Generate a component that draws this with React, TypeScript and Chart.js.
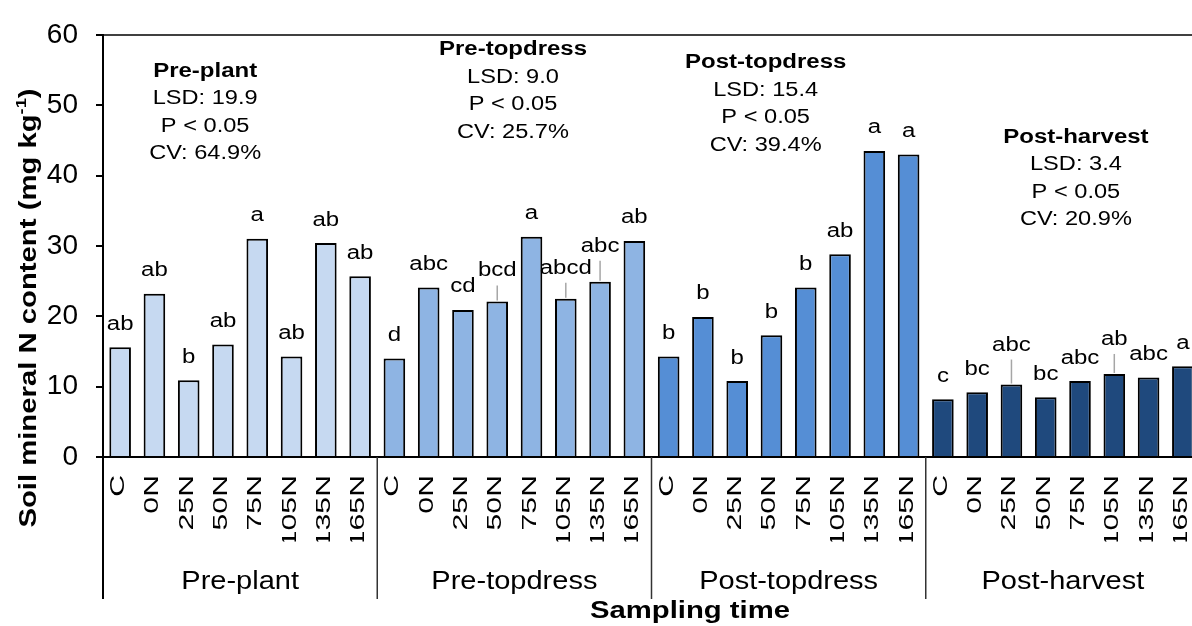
import React, { useEffect, useRef } from "react";
import { Chart, registerables } from "chart.js";

Chart.register(...registerables);

// ---------- data ----------
const treatments = ["C", "0N", "25N", "50N", "75N", "105N", "135N", "165N"];
const samplingTimes = ["Pre-plant", "Pre-topdress", "Post-topdress", "Post-harvest"];

const prePlant = [15.6, 23.2, 10.9, 16.0, 31.0, 14.3, 30.4, 25.7];
const preTopdress = [14.0, 24.1, 20.9, 22.1, 31.3, 22.5, 24.9, 30.7];
const postTopdress = [14.3, 19.9, 10.8, 17.3, 24.1, 28.8, 43.5, 43.0];
const postHarvest = [8.2, 9.2, 10.3, 8.5, 10.8, 11.8, 11.3, 12.9];

const prePlantLetters = ["ab", "ab", "b", "ab", "a", "ab", "ab", "ab"];
const preTopdressLetters = ["d", "abc", "cd", "bcd", "a", "abcd", "abc", "ab"];
const postTopdressLetters = ["b", "b", "b", "b", "b", "ab", "a", "a"];
const postHarvestLetters = ["c", "bc", "abc", "bc", "abc", "ab", "abc", "a"];

const lsdValues = ["19.9", "9.0", "15.4", "3.4"];
const pValues = ["P < 0.05", "P < 0.05", "P < 0.05", "P < 0.05"];
const cvValues = ["64.9%", "25.7%", "39.4%", "20.9%"];

const yTicks = [0, 10, 20, 30, 40, 50, 60];

// ---------- styling / placement ----------
const groupColors = ["#C6D9F1", "#8EB4E3", "#558ED5", "#1F497D"];
const leaderPx = [
  [0, 0, 0, 0, 0, 0, 0, 0],
  [0, 0, 0, 15, 0, 15, 20, 0],
  [0, 0, 0, 0, 0, 0, 0, 0],
  [0, 0, 24, 0, 0, 19, 0, 0],
];
// stat block anchor (category index, value of first line centre)
const statAnchor = [
  { x: 2.48, y: 54.8 },
  { x: 11.46, y: 57.9 },
  { x: 18.83, y: 56.05 },
  { x: 27.88, y: 45.45 },
];

const FAMILY = "'Liberation Sans', Arial, Helvetica, sans-serif";

const seriesValues = [prePlant, preTopdress, postTopdress, postHarvest];
const seriesLetters = [prePlantLetters, preTopdressLetters, postTopdressLetters, postHarvestLetters];

const allLabels: string[] = [];
const allValues: number[] = [];
const allColors: string[] = [];
const allLetters: string[] = [];
const allLeaders: number[] = [];
seriesValues.forEach((vals, g) => {
  vals.forEach((v, i) => {
    allLabels.push(treatments[i]);
    allValues.push(v);
    allColors.push(groupColors[g]);
    allLetters.push(seriesLetters[g][i]);
    allLeaders.push(leaderPx[g][i]);
  });
});

function txt(
  ctx: CanvasRenderingContext2D,
  s: string,
  x: number,
  y: number,
  font: string,
  sx: number,
  align: CanvasTextAlign = "center",
  baseline: CanvasTextBaseline = "middle",
  rot = 0
) {
  ctx.save();
  ctx.translate(x, y);
  if (rot) ctx.rotate(rot);
  ctx.scale(sx, 1);
  ctx.font = font;
  ctx.textAlign = align;
  ctx.textBaseline = baseline;
  ctx.fillStyle = "#000";
  ctx.fillText(s, 0, 0);
  ctx.restore();
}

const overlayPlugin = {
  id: "overlay",
  afterDraw(chart: any) {
    const ctx: CanvasRenderingContext2D = chart.ctx;
    const xs = chart.scales.x;
    const ys = chart.scales.y;
    const area = chart.chartArea;
    const n = allValues.length;
    const per = treatments.length;
    const lowerEnd = 599;

    // lines below axis: y-axis extension and group separators
    ctx.save();
    ctx.strokeStyle = "#000";
    ctx.lineWidth = 2;
    ctx.beginPath();
    ctx.moveTo(area.left, area.bottom);
    ctx.lineTo(area.left, lowerEnd);
    ctx.stroke();
    ctx.strokeStyle = "#333";
    ctx.lineWidth = 1.5;
    for (let g = 1; g < samplingTimes.length; g++) {
      const xp = xs.getPixelForValue(g * per - 0.5);
      ctx.beginPath();
      ctx.moveTo(xp, area.bottom);
      ctx.lineTo(xp, lowerEnd);
      ctx.stroke();
    }
    ctx.restore();

    // leader lines and letters
    for (let i = 0; i < n; i++) {
      const xc = xs.getPixelForValue(i);
      const top = ys.getPixelForValue(allValues[i]) - 1;
      const lead = allLeaders[i];
      if (lead > 0) {
        ctx.save();
        ctx.strokeStyle = "#A6A6A6";
        ctx.lineWidth = 1.5;
        ctx.beginPath();
        ctx.moveTo(xc, top);
        ctx.lineTo(xc, top - lead);
        ctx.stroke();
        ctx.restore();
      }
      const gap = lead > 0 ? lead + 10 : 17.5;
      txt(ctx, allLetters[i], xc, top + 1 - gap, `20px ${FAMILY}`, 1.2, "center", "alphabetic");
    }

    // stat blocks
    statAnchor.forEach((a, g) => {
      const xc = xs.getPixelForValue(a.x);
      const y0 = ys.getPixelForValue(a.y);
      const lh = 27.5;
      txt(ctx, samplingTimes[g], xc, y0, `bold 20px ${FAMILY}`, 1.2);
      txt(ctx, `LSD: ${lsdValues[g]}`, xc, y0 + lh, `20px ${FAMILY}`, 1.18);
      txt(ctx, pValues[g], xc, y0 + 2 * lh, `20px ${FAMILY}`, 1.18);
      txt(ctx, `CV: ${cvValues[g]}`, xc, y0 + 3 * lh, `20px ${FAMILY}`, 1.18);
    });

    // rotated treatment labels (clipped)
    ctx.save();
    ctx.beginPath();
    ctx.rect(0, area.bottom + 1, chart.width, 541.5 - area.bottom - 1);
    ctx.clip();
    for (let i = 0; i < n; i++) {
      const xc = xs.getPixelForValue(i);
      txt(ctx, allLabels[i], xc + 4, 475, `19.5px ${FAMILY}`, 1.55, "right", "alphabetic", -Math.PI / 2);
    }
    ctx.restore();

    // group labels
    samplingTimes.forEach((s, g) => {
      const xc = xs.getPixelForValue(g * per + (per - 1) / 2);
      txt(ctx, s, xc, 582, `25px ${FAMILY}`, 1.16);
    });

    // x-axis title
    txt(ctx, "Sampling time", 690, 611, `bold 24px ${FAMILY}`, 1.22);

    // y-axis title with superscript
    ctx.save();
    ctx.translate(35.5, 308);
    ctx.rotate(-Math.PI / 2);
    ctx.scale(1.22, 1);
    ctx.fillStyle = "#000";
    ctx.textBaseline = "alphabetic";
    ctx.textAlign = "left";
    const mainFont = `bold 24px ${FAMILY}`;
    const supFont = `bold 15px ${FAMILY}`;
    const p1 = "Soil mineral N content (mg kg";
    const p2 = "-1";
    const p3 = ")";
    ctx.font = mainFont;
    const w1 = ctx.measureText(p1).width;
    const w3 = ctx.measureText(p3).width;
    ctx.font = supFont;
    const w2 = ctx.measureText(p2).width;
    const total = w1 + w2 + w3;
    let cx = -total / 2;
    ctx.font = mainFont;
    ctx.fillText(p1, cx, 0);
    cx += w1;
    ctx.font = supFont;
    ctx.fillText(p2, cx, -9.5);
    cx += w2;
    ctx.font = mainFont;
    ctx.fillText(p3, cx, 0);
    ctx.restore();
  },
};

export default function App() {
  const canvasRef = useRef<HTMLCanvasElement | null>(null);

  useEffect(() => {
    if (!canvasRef.current) return;
    const chart = new Chart(canvasRef.current, {
      type: "bar",
      data: {
        labels: allLabels,
        datasets: [
          {
            data: allValues,
            backgroundColor: allColors,
            borderColor: "#000",
            borderWidth: 2,
            barPercentage: 0.63,
            categoryPercentage: 1,
          },
        ],
      },
      options: {
        responsive: false,
        animation: false,
        devicePixelRatio: 1,
        layout: { padding: { top: 27, right: 10, left: 0, bottom: 0 } },
        plugins: { legend: { display: false }, tooltip: { enabled: false } },
        scales: {
          x: {
            ticks: { display: false },
            grid: { display: false },
            border: { display: true, color: "#000", width: 2 },
            afterFit: (s: any) => {
              s.height = 169;
            },
          },
          y: {
            min: 0,
            max: 60,
            afterBuildTicks: (s: any) => {
              s.ticks = yTicks.map((v) => ({ value: v }));
            },
            ticks: {
              color: "#000",
              font: { family: FAMILY, size: 28 },
              padding: 18,
            },
            grid: {
              drawOnChartArea: true,
              color: (c: any) => (c.tick && c.tick.value === 60 ? "#404040" : "rgba(0,0,0,0)"),
              tickColor: "#000",
              tickLength: 7,
              lineWidth: 2,
            },
            border: { display: true, color: "#000", width: 2 },
            afterFit: (s: any) => {
              s.width = 103;
            },
          },
        },
      },
      plugins: [overlayPlugin],
    });
    return () => chart.destroy();
  }, []);

  return (
    <div
      style={{
        position: "absolute",
        left: 0,
        top: 0,
        width: 1192,
        height: 626,
        overflow: "hidden",
        background: "#fff",
      }}
    >
      <canvas ref={canvasRef} width={1210} height={626} style={{ width: 1210, height: 626, display: "block" }} />
    </div>
  );
}
